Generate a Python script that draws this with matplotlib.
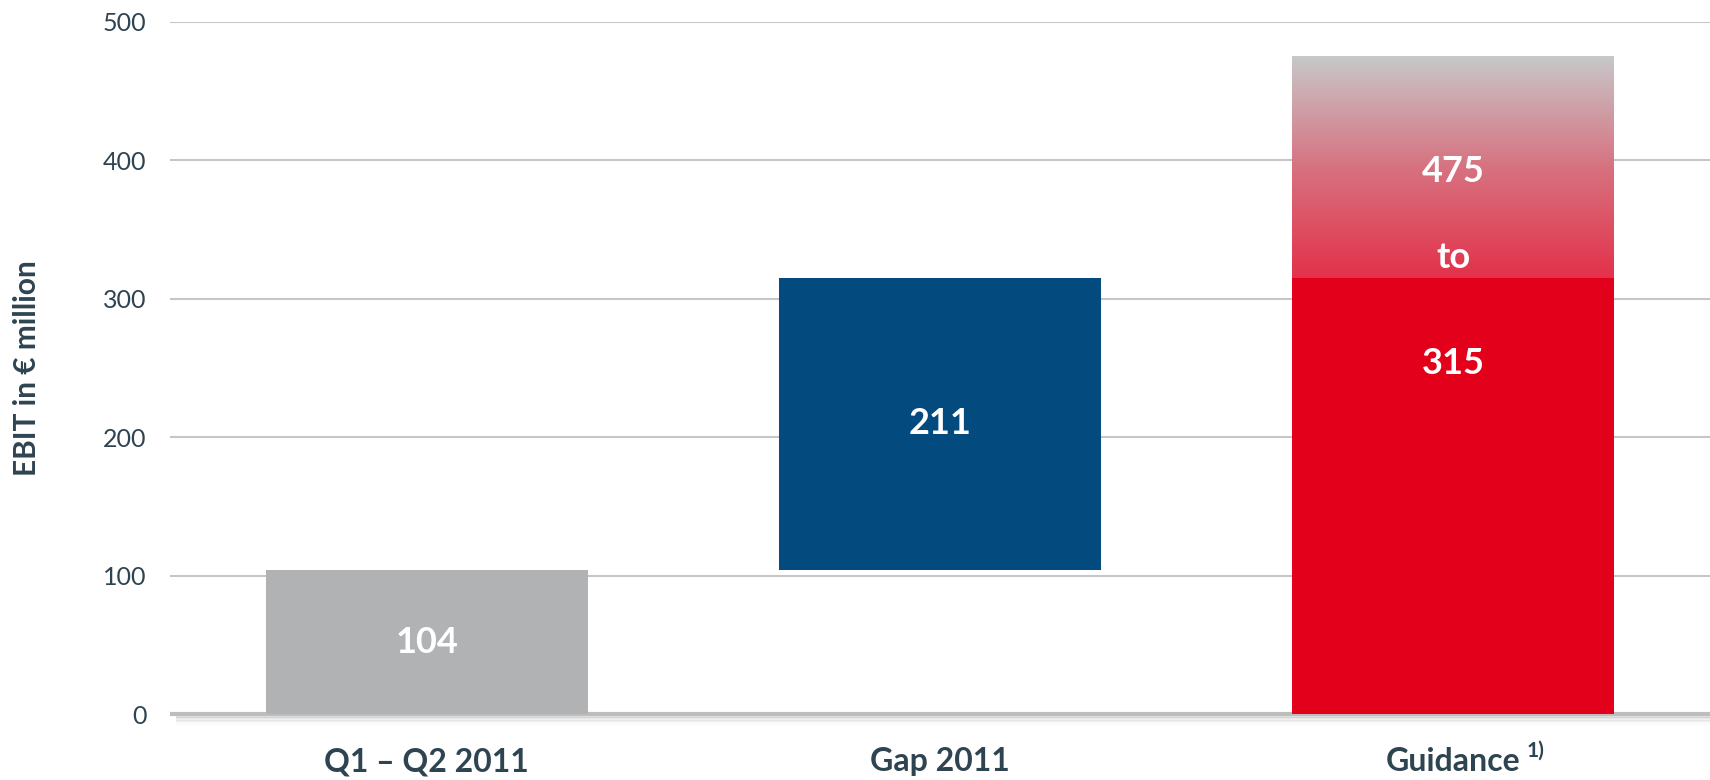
import numpy as np
import matplotlib
matplotlib.use('Agg')
import matplotlib.pyplot as plt
import matplotlib.transforms as mtransforms
from matplotlib.colors import LinearSegmentedColormap

# EBIT bridge, figures in EUR million
categories = ['Q1 – Q2 2011', 'Gap 2011', 'Guidance']
h1_ebit = 104
gap_2011 = 211
guidance_low = 315
guidance_high = 475
yticks = [0, 100, 200, 300, 400, 500]

TEXT = '#2e4450'
GREY = '#b1b2b4'
BLUE = '#034a7f'
RED = '#e2001a'

plt.rcParams['font.family'] = ['Lato', 'DejaVu Sans']

fig = plt.figure(figsize=(17.1, 7.8), dpi=100)
ax = fig.add_axes([0.0995, 0.0846, 0.9005, 0.8874])

x = np.arange(len(categories))
w = 0.627

# bars
ax.bar(x[0], h1_ebit, width=w, color=GREY, zorder=3)
ax.bar(x[1], gap_2011, bottom=h1_ebit, width=w, color=BLUE, zorder=3)
ax.bar(x[2], guidance_low, width=w, color=RED, zorder=3)

# upper part of guidance range fades from red into grey
cmap = LinearSegmentedColormap.from_list('fade', ['#e3324a', '#d77280', '#c7c8ca'])
grad = np.linspace(0, 1, 256).reshape(-1, 1)
ax.imshow(grad, extent=[x[2] - w / 2, x[2] + w / 2, guidance_low, guidance_high],
          origin='lower', aspect='auto', cmap=cmap, zorder=3)

# value labels
lab = dict(color='white', fontsize=26, fontweight='bold', ha='center', va='center', zorder=5)
ax.text(x[0], h1_ebit / 2, str(h1_ebit), **lab)
ax.text(x[1], h1_ebit + gap_2011 / 2, str(gap_2011), **lab)
ax.text(x[2], guidance_low - 62, str(guidance_low), **lab)
ax.text(x[2], guidance_high - 83, str(guidance_high), **lab)
ax.text(x[2], 330, 'to', **lab)

ax.set_xlim(-0.5, 2.5)
ax.set_ylim(0, 500)
ax.set_yticks(yticks)
ax.yaxis.grid(True, color='#c6c6c6', lw=1.5, zorder=0)
ax.set_axisbelow(True)
for s in ax.spines.values():
    s.set_visible(False)

ax.tick_params(axis='y', length=0, pad=17, labelsize=18, labelcolor=TEXT)
ax.tick_params(axis='x', length=0, pad=24, labelsize=23, labelcolor=TEXT)
ax.set_xticks(x)
ax.set_xticklabels(categories, fontweight='bold')

# hide the zero gridline, the baseline replaces it
ax.get_ygridlines()[0].set_visible(False)

# heavier baseline with a soft shadow underneath
for i, a in enumerate([0.32, 0.25, 0.18, 0.12, 0.07, 0.04, 0.02]):
    off = mtransforms.ScaledTranslation(0, -(2 + i) / 72, fig.dpi_scale_trans)
    ax.plot([0.004, 1.0], [0, 0], transform=ax.get_yaxis_transform() + off,
            color='#999999', alpha=a, lw=1.2, solid_capstyle='butt',
            clip_on=False, zorder=1)
ax.plot([0, 1.0], [0, 0], transform=ax.get_yaxis_transform(), color='#bdbdbd', lw=3,
        solid_capstyle='butt', clip_on=False, zorder=2)

# footnote marker on last category
ax.annotate('1)', xy=(1, 1), xycoords=ax.get_xticklabels()[2],
            xytext=(4, 5), textcoords='offset points', ha='left', va='top',
            fontsize=15, fontweight='bold', color=TEXT)

fig.text(27 / 1710, 0.528, 'EBIT in € million', rotation=90, ha='center', va='center',
         fontsize=21.5, fontweight='bold', color=TEXT)

fig.savefig('out.png', dpi=100)
